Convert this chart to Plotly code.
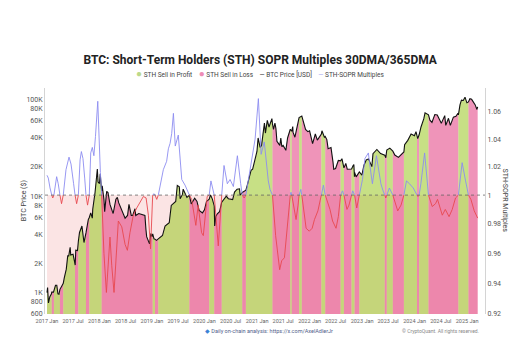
import numpy as np
import pandas as pd
import plotly.graph_objects as go

# ---------------- data ----------------
price_dates = [
    "2017-01-01", "2017-01-05", "2017-01-11", "2017-01-20", "2017-02-01", "2017-02-03", "2017-02-15", "2017-02-18",
    "2017-03-01", "2017-03-10", "2017-03-18", "2017-03-25", "2017-04-01", "2017-04-15", "2017-04-24", "2017-05-01",
    "2017-05-15", "2017-05-25", "2017-06-01", "2017-06-11", "2017-06-15", "2017-07-01", "2017-07-15", "2017-07-16",
    "2017-07-20", "2017-08-01", "2017-08-07", "2017-08-15", "2017-09-01", "2017-09-15", "2017-09-29", "2017-10-01",
    "2017-10-15", "2017-10-22", "2017-11-01", "2017-11-12", "2017-11-15", "2017-12-01", "2017-12-17", "2017-12-22",
    "2018-01-01", "2018-01-06", "2018-01-16", "2018-01-20", "2018-02-01", "2018-02-06", "2018-02-20", "2018-03-01",
    "2018-03-15", "2018-04-01", "2018-04-06", "2018-04-25", "2018-05-05", "2018-05-15", "2018-06-01", "2018-06-15",
    "2018-06-28", "2018-07-15", "2018-07-25", "2018-08-10", "2018-08-20", "2018-09-05", "2018-09-10", "2018-10-01",
    "2018-10-15", "2018-11-01", "2018-11-13", "2018-11-20", "2018-11-25", "2018-12-15", "2018-12-24", "2019-01-01",
    "2019-01-06", "2019-01-15", "2019-01-22", "2019-02-01", "2019-02-14", "2019-03-01", "2019-03-15", "2019-04-02",
    "2019-04-15", "2019-05-01", "2019-05-15", "2019-06-01", "2019-06-15", "2019-06-26", "2019-07-10", "2019-07-16",
    "2019-08-01", "2019-08-06", "2019-08-20", "2019-09-01", "2019-09-18", "2019-09-25", "2019-10-01", "2019-10-25",
    "2019-11-10", "2019-11-25", "2019-12-18", "2020-01-01", "2020-01-15", "2020-02-03", "2020-02-12", "2020-02-25",
    "2020-03-09", "2020-03-12", "2020-03-20", "2020-04-01", "2020-04-15", "2020-04-30", "2020-05-15", "2020-06-01",
    "2020-06-15", "2020-07-01", "2020-07-15", "2020-07-28", "2020-08-15", "2020-09-01", "2020-09-05", "2020-09-20",
    "2020-10-15", "2020-10-25", "2020-11-05", "2020-11-20", "2020-12-01", "2020-12-17", "2020-12-31", "2021-01-08",
    "2021-01-22", "2021-02-01", "2021-02-10", "2021-02-21", "2021-02-28", "2021-03-13", "2021-03-25", "2021-04-14",
    "2021-04-18", "2021-04-25", "2021-05-05", "2021-05-12", "2021-05-19", "2021-06-08", "2021-06-15", "2021-06-22",
    "2021-07-01", "2021-07-20", "2021-08-01", "2021-08-14", "2021-08-20", "2021-08-30", "2021-09-06", "2021-09-08",
    "2021-09-21", "2021-10-01", "2021-10-20", "2021-11-08", "2021-11-20", "2021-12-04", "2021-12-20", "2022-01-01",
    "2022-01-22", "2022-02-10", "2022-02-24", "2022-03-24", "2022-03-28", "2022-04-15", "2022-04-20", "2022-05-01",
    "2022-05-10", "2022-05-30", "2022-06-13", "2022-06-18", "2022-07-01", "2022-07-20", "2022-08-05", "2022-08-14",
    "2022-08-28", "2022-09-10", "2022-09-20", "2022-10-20", "2022-10-30", "2022-11-05", "2022-11-09", "2022-11-10",
    "2022-11-21", "2022-12-13", "2022-12-31", "2023-01-14", "2023-01-30", "2023-02-15", "2023-03-10", "2023-03-18",
    "2023-04-14", "2023-05-10", "2023-06-08", "2023-06-15", "2023-06-22", "2023-07-13", "2023-08-03", "2023-08-17",
    "2023-09-11", "2023-10-02", "2023-10-19", "2023-10-24", "2023-11-15", "2023-12-08", "2023-12-31", "2024-01-11",
    "2024-01-18", "2024-01-23", "2024-02-02", "2024-02-15", "2024-03-05", "2024-03-14", "2024-04-07", "2024-04-17",
    "2024-05-01", "2024-05-21", "2024-06-07", "2024-07-05", "2024-07-29", "2024-08-05", "2024-08-24", "2024-09-06",
    "2024-09-27", "2024-10-15", "2024-10-29", "2024-11-01", "2024-11-12", "2024-11-22", "2024-12-05", "2024-12-17",
    "2024-12-30", "2025-01-10", "2025-01-20", "2025-02-01", "2025-02-25", "2025-03-10", "2025-03-15",
]
btc_price = [
    1000, 1130, 780, 900, 970, 1010, 1010, 1050,
    1190, 1190, 970, 960, 1080, 1180, 1250, 1420,
    1750, 2400, 2400, 2950, 2450, 2500, 2000, 1930,
    2750, 2720, 3400, 4200, 4900, 3300, 4150, 4400,
    5700, 6000, 6700, 5900, 7300, 10900, 19100, 14000,
    13500, 17000, 11300, 12800, 9200, 6900, 11200, 10900,
    8200, 6900, 6600, 9300, 9700, 8500, 7500, 6500,
    5900, 6300, 8200, 6300, 6300, 7400, 6300, 6600,
    6500, 6350, 6300, 4500, 3800, 3200, 4100, 3800,
    4050, 3600, 3580, 3480, 3600, 3800, 3900, 4900,
    5100, 5300, 8000, 8500, 8800, 12900, 12500, 9400,
    10400, 11800, 10800, 9700, 10200, 8500, 8300, 9500,
    8800, 7100, 6700, 7200, 8800, 9300, 10300, 9300,
    7900, 4900, 6200, 6600, 6900, 8650, 9300, 10000,
    9400, 9200, 9200, 11000, 11800, 11900, 10200, 10900,
    11500, 13000, 15500, 18500, 19000, 23000, 29000, 40000,
    32000, 33500, 45000, 57000, 45000, 61000, 52000, 63500,
    56000, 49000, 57000, 50000, 37000, 33500, 40000, 32500,
    33500, 29800, 40000, 47000, 49300, 46900, 52500, 46000,
    40700, 48000, 65000, 67500, 58000, 49000, 46500, 47500,
    35000, 44000, 38000, 44000, 47500, 40500, 41400, 38500,
    31000, 31800, 22500, 19000, 19300, 23400, 23200, 24400,
    19600, 21800, 19000, 19100, 20600, 21200, 15900, 17600,
    15800, 17800, 16500, 20900, 23700, 24300, 20200, 27500,
    30400, 27600, 26500, 25000, 30000, 31400, 29200, 26600,
    25200, 27500, 28700, 34000, 37800, 44000, 42300, 46500,
    41300, 39500, 43200, 52000, 63000, 73000, 69400, 61200,
    58000, 70000, 69300, 56700, 68200, 54000, 64000, 54000,
    65800, 67000, 72300, 69500, 88000, 98500, 98000, 106000,
    92600, 94700, 102000, 100600, 88600, 79000, 84000,
]

sopr_dates = [
    "2017-01-01", "2017-01-10", "2017-01-22", "2017-02-03", "2017-02-10", "2017-02-18", "2017-03-09", "2017-03-20",
    "2017-04-01", "2017-04-12", "2017-04-24", "2017-05-13", "2017-06-03", "2017-06-17", "2017-07-05", "2017-07-15",
    "2017-07-26", "2017-08-07", "2017-08-19", "2017-08-28", "2017-09-08", "2017-09-20", "2017-09-29", "2017-10-10",
    "2017-10-22", "2017-11-01", "2017-11-12", "2017-11-23", "2017-12-04", "2017-12-20", "2018-01-07", "2018-01-16",
    "2018-02-01", "2018-02-18", "2018-03-15", "2018-03-27", "2018-04-12", "2018-05-12", "2018-06-05", "2018-06-28",
    "2018-07-14", "2018-08-01", "2018-08-24", "2018-09-17", "2018-10-10", "2018-11-02", "2018-11-21", "2018-12-07",
    "2018-12-22", "2019-01-06", "2019-01-14", "2019-01-22", "2019-02-03", "2019-02-14", "2019-03-21", "2019-04-13",
    "2019-04-25", "2019-05-07", "2019-05-18", "2019-05-30", "2019-06-12", "2019-07-03", "2019-07-27", "2019-08-19",
    "2019-09-18", "2019-10-04", "2019-11-02", "2019-11-18", "2019-12-12", "2019-12-24", "2020-01-20", "2020-02-03",
    "2020-02-15", "2020-03-09", "2020-04-06", "2020-04-30", "2020-05-16", "2020-06-08", "2020-06-27", "2020-07-20",
    "2020-08-17", "2020-09-09", "2020-09-20", "2020-10-03", "2020-10-15", "2020-11-13", "2020-11-25", "2020-12-18",
    "2021-01-10", "2021-01-29", "2021-02-20", "2021-03-20", "2021-04-01", "2021-04-18", "2021-05-10", "2021-06-07",
    "2021-06-21", "2021-07-10", "2021-08-01", "2021-08-20", "2021-08-25", "2021-08-30", "2021-09-29", "2021-10-13",
    "2021-10-20", "2021-11-01", "2021-11-08", "2021-12-08", "2021-12-30", "2022-01-19", "2022-02-04", "2022-02-28",
    "2022-03-15", "2022-03-24", "2022-04-07", "2022-04-20", "2022-05-23", "2022-06-10", "2022-07-04", "2022-07-20",
    "2022-08-05", "2022-08-18", "2022-08-28", "2022-09-18", "2022-10-02", "2022-10-20", "2022-10-28", "2022-11-10",
    "2022-11-25", "2022-12-13", "2023-01-04", "2023-01-21", "2023-02-14", "2023-02-23", "2023-03-14", "2023-04-11",
    "2023-05-12", "2023-05-27", "2023-06-08", "2023-06-15", "2023-06-22", "2023-07-10", "2023-08-03", "2023-09-06",
    "2023-09-29", "2023-10-19", "2023-11-06", "2023-11-27", "2023-12-23", "2024-01-18", "2024-01-25", "2024-02-02",
    "2024-02-14", "2024-03-11", "2024-03-24", "2024-04-07", "2024-05-03", "2024-05-26", "2024-06-09", "2024-07-12",
    "2024-08-02", "2024-08-28", "2024-09-19", "2024-10-12", "2024-11-01", "2024-11-27", "2024-12-21", "2025-01-10",
    "2025-01-27", "2025-02-19", "2025-03-15",
]
sopr_multiple = [
    1.014, 1.012, 1.005, 1.000, 0.998, 1.000, 1.013, 1.008,
    1.000, 0.994, 1.000, 1.018, 1.027, 1.022, 1.008, 1.000,
    0.994, 1.000, 1.025, 1.031, 1.026, 1.012, 1.000, 0.993,
    1.000, 1.030, 1.034, 1.028, 1.042, 1.068, 1.016, 1.000,
    0.960, 0.934, 0.971, 0.952, 0.934, 0.982, 0.978, 0.966,
    0.962, 0.974, 0.986, 0.991, 0.995, 0.999, 0.998, 0.986,
    0.963, 1.000, 1.001, 1.000, 0.997, 1.000, 1.018, 1.024,
    1.033, 1.037, 1.044, 1.059, 1.035, 1.043, 1.011, 1.007,
    1.000, 0.997, 0.979, 0.993, 0.974, 0.972, 0.999, 1.000,
    1.010, 1.000, 0.965, 1.000, 1.021, 1.008, 1.011, 1.006,
    1.028, 1.008, 1.000, 0.998, 1.000, 1.017, 1.025, 1.040,
    1.070, 1.029, 1.038, 1.010, 1.004, 1.000, 0.972, 0.949,
    0.955, 0.957, 0.983, 1.000, 1.002, 1.000, 0.983, 0.993,
    1.000, 1.004, 1.000, 0.977, 0.975, 0.977, 0.983, 0.989,
    0.996, 1.000, 1.007, 1.000, 0.990, 0.982, 0.977, 0.985,
    1.000, 1.003, 1.000, 0.990, 0.993, 1.000, 1.003, 1.000,
    0.991, 1.000, 1.011, 1.026, 1.030, 1.022, 1.008, 1.028,
    1.008, 1.003, 1.000, 0.998, 1.000, 1.005, 1.000, 0.989,
    0.993, 1.000, 1.010, 1.008, 1.005, 1.000, 0.999, 1.000,
    1.008, 1.030, 1.015, 1.000, 0.992, 0.994, 0.997, 0.986,
    0.990, 0.985, 0.990, 0.998, 1.000, 1.023, 1.010, 1.000,
    0.997, 0.989, 0.984,
]

price_ticks = [600, 800, 1000, 2000, 4000, 6000, 8000, 10000, 20000, 40000, 60000, 80000, 100000]
price_tick_text = ["600", "800", "1K", "2K", "4K", "6K", "8K", "10K", "20K", "40K", "60K", "80K", "100K"]
sopr_ticks = [0.92, 0.94, 0.96, 0.98, 1.0, 1.02, 1.04, 1.06]
sopr_tick_text = ["0.92", "0.94", "0.96", "0.98", "1", "1.02", "1.04", "1.06"]
x_tick_dates = ["2017-01-01", "2017-07-01", "2018-01-01", "2018-07-01", "2019-01-01", "2019-07-01",
                "2020-01-01", "2020-07-01", "2021-01-01", "2021-07-01", "2022-01-01", "2022-07-01",
                "2023-01-01", "2023-07-01", "2024-01-01", "2024-07-01", "2025-01-01"]
x_tick_text = ["2017 Jan", "2017 Jul", "2018 Jan", "2018 Jul", "2019 Jan", "2019 Jul", "2020 Jan", "2020 Jul",
               "2021 Jan", "2021 Jul", "2022 Jan", "2022 Jul", "2023 Jan", "2023 Jul", "2024 Jan", "2024 Jul",
               "2025 Jan"]

# ---------------- styling ----------------
FONT = "Roboto, 'Liberation Sans', Arial, sans-serif"
GREEN_FILL = "rgba(158,202,45,0.58)"
PINK_FILL = "rgba(225,50,120,0.52)"
BAND_COLOR = "rgba(248,205,205,0.55)"
BLUE_LINE = "#8c8cf0"
RED_LINE = "#e8484f"

p_dates = pd.to_datetime(price_dates)
p_vals = np.array(btc_price, dtype=float)
s_dates = pd.to_datetime(sopr_dates)
s_vals = np.array(sopr_multiple, dtype=float)

# regime bands: split at points where the multiple sits exactly on 1
cross = [i for i, v in enumerate(s_vals) if v == 1.0]
bounds = [0] + cross + [len(s_vals) - 1]
bands = []
for a, b in zip(bounds[:-1], bounds[1:]):
    inner = s_vals[a + 1:b] if b > a + 1 else s_vals[a:b + 1]
    profit = bool(np.mean(inner) >= 1.0)
    bands.append((s_dates[a], s_dates[b], profit))

fig = go.Figure()

for start, end, profit in bands:
    m = (p_dates >= start) & (p_dates <= end)
    fig.add_trace(go.Scatter(
        x=p_dates[m], y=p_vals[m], mode="none", fill="tozeroy",
        fillcolor=GREEN_FILL if profit else PINK_FILL,
        showlegend=False, hoverinfo="skip", yaxis="y"))

fig.add_trace(go.Scatter(
    x=p_dates, y=p_vals, mode="lines", line=dict(color="#111111", width=1.1),
    name="BTC Price [USD]", showlegend=False, yaxis="y"))

blue_y = [v if v >= 1.0 else None for v in s_vals]
red_y = [v if v <= 1.0 else None for v in s_vals]
fig.add_trace(go.Scatter(
    x=s_dates, y=blue_y, mode="lines", line=dict(color=BLUE_LINE, width=0.9),
    connectgaps=False, showlegend=False, yaxis="y2"))
fig.add_trace(go.Scatter(
    x=s_dates, y=red_y, mode="lines", line=dict(color=RED_LINE, width=0.9),
    connectgaps=False, showlegend=False, yaxis="y2"))

shapes = [
    dict(type="rect", xref="x", yref="y2", x0=p_dates[0], x1=p_dates[-1], y0=0.92, y1=1.0,
         fillcolor=BAND_COLOR, line=dict(width=0), layer="below"),
    dict(type="line", xref="paper", yref="y2", x0=0, x1=1, y0=1.0, y1=1.0,
         line=dict(color="#666666", width=0.8, dash="dot"), layer="above"),
]

legend_html = (
    "<span style='color:#bcd98a;font-size:10px'>●</span> STH Sell in Profit"
    "&nbsp;&nbsp;&nbsp;&nbsp;<span style='color:#ee8cb6;font-size:10px'>●</span> STH Sell in Loss"
    "&nbsp;&nbsp;&nbsp;&nbsp;<span style='color:#333333'>—</span> BTC Price [USD]"
    "&nbsp;&nbsp;&nbsp;&nbsp;<span style='color:#aaaaf2'>—</span> STH-SOPR Multiples"
)

annotations = [
    dict(text=legend_html, xref="paper", yref="paper", x=0.489, y=1.066, showarrow=False,
         font=dict(size=6.5, color="#444444", family=FONT), xanchor="center", yanchor="middle"),
    dict(text="BTC Price ($)", xref="paper", yref="paper", x=-0.061, y=0.5, showarrow=False,
         textangle=-90, font=dict(size=7, color="#444444", family=FONT)),
    dict(text="STH-SOPR Multiples", xref="paper", yref="paper", x=1.06, y=0.5, showarrow=False,
         textangle=90, font=dict(size=7, color="#444444", family=FONT)),
    dict(text="<span style='color:#3b82d6'>◆</span> Daily on-chain analysis: https://x.com/AxelAdlerJr",
         xref="paper", yref="paper", x=0.51, y=-0.075, yanchor="middle", showarrow=False,
         font=dict(size=5.5, color="#50608a", family=FONT)),
    dict(text="© CryptoQuant. All rights reserved.", xref="paper", yref="paper", x=0.99, y=-0.075,
         yanchor="middle", showarrow=False, font=dict(size=5, color="#888888", family=FONT)),
]

fig.update_layout(
    width=532, height=359,
    margin=dict(l=45, r=47, t=88, b=45),
    paper_bgcolor="white", plot_bgcolor="white",
    font=dict(family=FONT, color="#555555"),
    title=dict(text="<b>BTC: Short-Term Holders (STH) SOPR Multiples 30DMA/365DMA</b>",
               x=0.489, xanchor="center", y=0.833, yanchor="middle",
               font=dict(size=12, color="#222222", family=FONT)),
    showlegend=False,
    shapes=shapes,
    annotations=annotations,
    xaxis=dict(
        type="date", range=["2016-12-18", "2025-05-05"],
        tickvals=x_tick_dates, ticktext=x_tick_text,
        tickfont=dict(size=5.5, color="#666666"),
        ticklabelstandoff=2,
        showgrid=False, zeroline=False, showline=False, ticks="",
    ),
    yaxis=dict(
        type="log", range=[np.log10(600), 5.12],
        tickvals=price_ticks, ticktext=price_tick_text,
        tickfont=dict(size=7, color="#555555"),
        showgrid=False, zeroline=False,
        showline=True, linecolor="#d4d4d4", linewidth=1, ticks="",
    ),
    yaxis2=dict(
        type="log", overlaying="y", side="right",
        range=[np.log10(0.92), np.log10(1.078)],
        tickvals=sopr_ticks, ticktext=sopr_tick_text,
        tickfont=dict(size=7, color="#555555"),
        showgrid=False, zeroline=False,
        showline=True, linecolor="#d4d4d4", linewidth=1, ticks="",
    ),
)

fig.write_html("out.html", config={"displayModeBar": False},
               post_script="document.body.style.margin='0px';")
